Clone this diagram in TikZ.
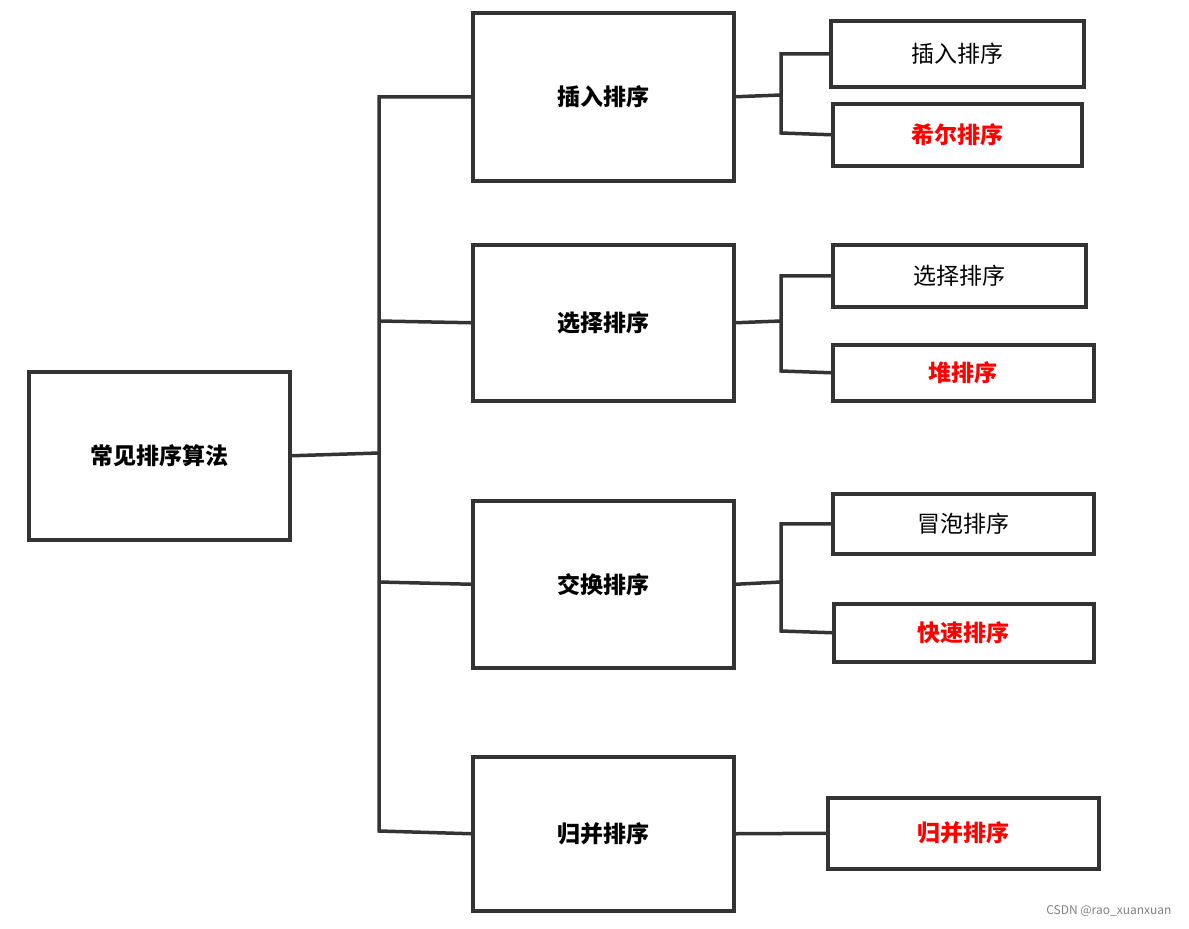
\documentclass[tikz,border=0pt]{standalone}
\usepackage{fontspec}
\setmainfont{Noto Sans CJK SC}
\begin{document}
\begin{tikzpicture}[x=1pt,y=-1pt,
  box/.style={draw=black!80,line width=3.5pt,inner sep=0pt,anchor=north west,font=\fontsize{23}{27}\selectfont},
  bb/.style={box,font=\fontsize{23}{27}\selectfont\bfseries},
  rb/.style={box,font=\fontsize{23}{27}\selectfont\bfseries,text=red},
  ln/.style={draw=black!80,line width=3.5pt}]
\useasboundingbox (0,0) rectangle (1189,929);
\node[bb,minimum width=261pt,minimum height=168pt] (root) at (27,370) {常见排序算法};
\node[bb,minimum width=261pt,minimum height=168pt] (a) at (471,11) {插入排序};
\node[bb,minimum width=261pt,minimum height=156pt] (b) at (471,243) {选择排序};
\node[bb,minimum width=261pt,minimum height=167pt] (c) at (471,499) {交换排序};
\node[bb,minimum width=261pt,minimum height=154pt] (d) at (471,755) {归并排序};
\node[box,minimum width=253pt,minimum height=66pt] (a1) at (829,19) {插入排序};
\node[rb,minimum width=249pt,minimum height=62pt] (a2) at (831,102) {希尔排序};
\node[box,minimum width=253pt,minimum height=62pt] (b1) at (831,243) {选择排序};
\node[rb,minimum width=261pt,minimum height=56pt] (b2) at (831,343) {堆排序};
\node[box,minimum width=261pt,minimum height=60pt] (c1) at (831,492) {冒泡排序};
\node[rb,minimum width=260pt,minimum height=58pt] (c2) at (832,602) {快速排序};
\node[rb,minimum width=271pt,minimum height=71pt] (d1) at (826,796) {归并排序};
\coordinate (sp) at (379,453);
\draw[ln] (root.east) -- (sp);
\draw[ln] (a.west) -| (379,831) -- (d.west);
\draw[ln] (b.west) -- (379,321);
\draw[ln] (c.west) -- (379,582);
\draw[ln] (a.east) -- (781,95);
\draw[ln] (a1.west) -| (781,133) -- (a2.west);
\draw[ln] (b.east) -- (781,321);
\draw[ln] (b1.west) -| (781,371) -- (b2.west);
\draw[ln] (c.east) -- (781,582);
\draw[ln] (c1.west) -| (781,631) -- (c2.west);
\draw[ln] (d.east) -- (d1.west);
\node[anchor=east,text=gray,font=\fontsize{12}{14}\selectfont] (wm) at (1175,911) {CSDN @rao\_xuanxuan};
\end{tikzpicture}
\end{document}
